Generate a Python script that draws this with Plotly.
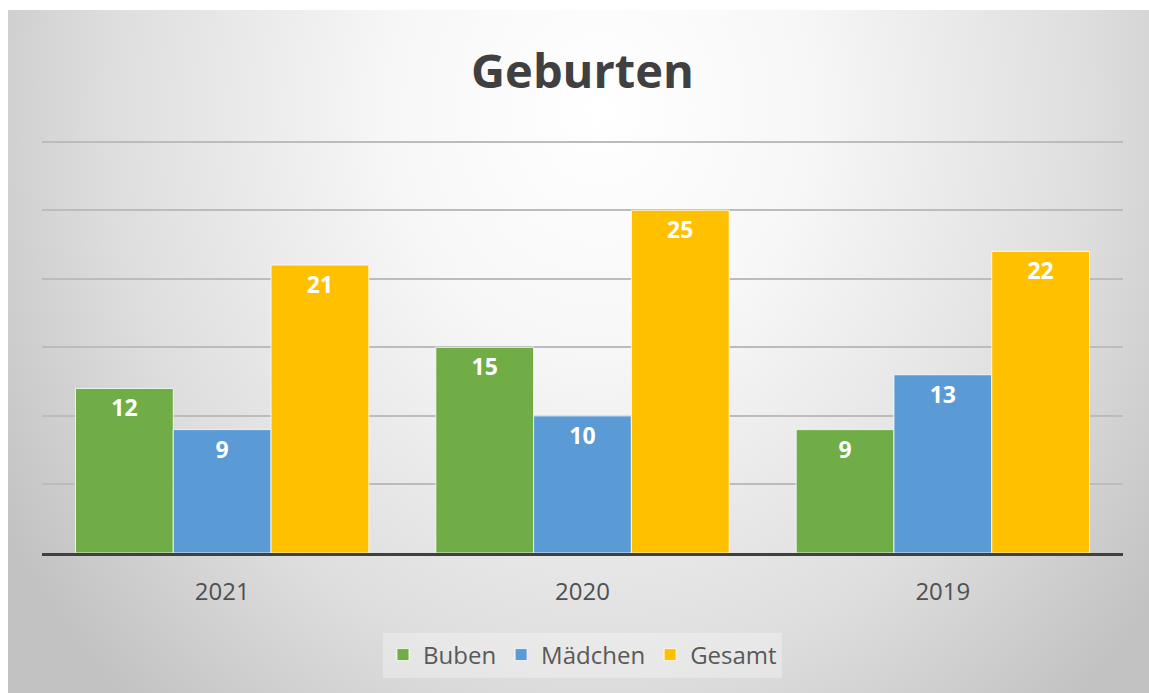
import base64
import plotly.graph_objects as go

categories = ["2021", "2020", "2019"]
buben = [12, 15, 9]
maedchen = [9, 10, 13]
gesamt = [21, 25, 22]
series_names = ["Buben", "Mädchen", "Gesamt"]
series_colors = ["#70AD47", "#5B9BD5", "#FFC000"]
y_max = 31
grid_vals = [5, 10, 15, 20, 25, 30]

W, H = 1149, 693
px_per_unit = 411 / 30
L, R, B = 42, 26, 140
T = round(H - B - y_max * px_per_unit)
plot_w = W - L - R
plot_h = H - T - B

# radial gradient background (chart area box)
bx0, by0, bw, bh = 8, 10, W - 8, H - 10
svg = f'''<svg xmlns="http://www.w3.org/2000/svg" width="{bw}" height="{bh}" viewBox="0 0 {bw} {bh}" preserveAspectRatio="none">
<defs><radialGradient id="g" gradientUnits="userSpaceOnUse" cx="592" cy="100" r="700"
 gradientTransform="translate(592 100) scale(1 1.15) translate(-592 -100)">
<stop offset="0" stop-color="#ffffff"/>
<stop offset="0.3" stop-color="#f7f7f7"/>
<stop offset="0.7" stop-color="#dedede"/>
<stop offset="1" stop-color="#c2c2c2"/>
</radialGradient></defs>
<rect x="0" y="0" width="{bw}" height="{bh}" fill="url(#g)"/>
</svg>'''
src = "data:image/svg+xml;base64," + base64.b64encode(svg.encode()).decode()

fig = go.Figure()
for name, vals, col in zip(series_names, [buben, maedchen, gesamt], series_colors):
    fig.add_trace(go.Bar(
        name=name, x=categories, y=vals,
        marker=dict(color=col, line=dict(color="rgba(255,255,255,0.8)", width=1)),
        text=vals, textposition="inside", insidetextanchor="end",
        textfont=dict(family="Open Sans", size=23, color="white", weight="bold"),
        textangle=0, cliponaxis=False, hoverinfo="skip",
    ))

fig.update_layout(
    width=W, height=H,
    margin=dict(l=L, r=R, t=T, b=B),
    paper_bgcolor="white",
    plot_bgcolor="rgba(0,0,0,0)",
    barmode="group", bargap=0.186, bargroupgap=0.0,
    font=dict(family="Open Sans", color="#595959"),
    title=dict(text="<b>Geburten</b>", x=(L + plot_w / 2) / W, xanchor="center",
               y=1 - 72 / H, yanchor="middle",
               font=dict(family="Open Sans", size=47, color="#404040")),
    xaxis=dict(showline=True, linecolor="#404040", linewidth=3, ticks="",
               tickfont=dict(size=24, color="#505050"), showgrid=False,
               ticklabelstandoff=15),
    yaxis=dict(range=[0, y_max], tickvals=grid_vals,
               showticklabels=False, showline=False,
               zeroline=False, gridcolor="#bcbcbc", gridwidth=1.5),
    legend=dict(orientation="h", x=0.5, xanchor="center",
                y=(T + plot_h - 655) / plot_h, yanchor="middle",
                bgcolor="rgba(255,255,255,0.3)",
                font=dict(size=24, color="#595959"),
                itemwidth=30, traceorder="normal"),
    showlegend=True,
    images=[dict(source=src, xref="paper", yref="paper",
                 x=(bx0 - L) / plot_w, y=(T + plot_h - by0) / plot_h,
                 sizex=bw / plot_w, sizey=bh / plot_h,
                 xanchor="left", yanchor="top", sizing="stretch", layer="below")],
)

fig.write_html("out.html")
